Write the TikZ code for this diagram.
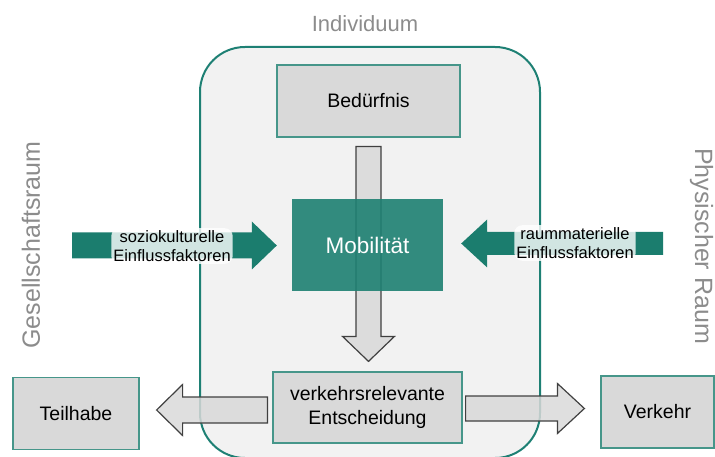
\documentclass[tikz,border=0pt]{standalone}
\usepackage{fontspec}
\setmainfont{Liberation Sans}
\usetikzlibrary{calc,positioning}

\definecolor{rahmenteal}{RGB}{30,128,116}
\definecolor{kastenrand}{RGB}{70,150,138}
\definecolor{pfeilteal}{RGB}{27,125,110}
\definecolor{mobteal}{RGB}{30,128,114}
\definecolor{kastengrau}{RGB}{217,217,217}
\definecolor{hellgrau}{RGB}{242,242,242}
\definecolor{schriftgrau}{RGB}{140,140,140}
\definecolor{pfeilrand}{RGB}{64,64,64}

% block arrow: style, from, to, half shaft, half head, head length
\newcommand{\blockpfeil}[6]{%
  \path[#1] let \p1=(#2), \p2=(#3),
    \n1={atan2(\y2-\y1,\x2-\x1)}, \n2={veclen(\x2-\x1,\y2-\y1)} in
    [shift={(\p1)}, rotate=\n1]
    (0pt,#4pt) -- (\n2-#6pt,#4pt) -- (\n2-#6pt,#5pt) -- (\n2,0pt)
    -- (\n2-#6pt,-#5pt) -- (\n2-#6pt,-#4pt) -- (0pt,-#4pt) -- cycle;}

\begin{document}
\begin{tikzpicture}[x=1pt,y=-1pt,
  kasten/.style={draw=kastenrand,line width=1.2pt,fill=kastengrau,inner sep=0pt,
    align=center,font=\fontsize{19.5}{24}\selectfont},
  raumlabel/.style={text=schriftgrau,inner sep=0pt,font=\fontsize{25}{30}\selectfont},
  grauerpfeil/.style={draw=pfeilrand,line width=1.2pt,fill=kastengrau,fill opacity=0.85},
  tealpfeil/.style={fill=pfeilteal},
  leuchttext/.style={fill=white,fill opacity=0.8,text opacity=1,rounded corners=8pt,
    inner sep=2pt,align=center,font=\fontsize{16.5}{19.5}\selectfont}]

\useasboundingbox (0,0) rectangle (715,457);

% Individuum
\node[draw=rahmenteal,line width=2pt,fill=hellgrau,rounded corners=45pt,
  minimum width=340pt,minimum height=411pt](ind) at (370,252.5) {};
\node[text=schriftgrau,font=\fontsize{22}{26}\selectfont](indlabel) at (365,24) {Individuum};

\node[kasten,minimum width=183pt,minimum height=72pt](bed) at (368.5,101) {Bedürfnis};
\node[kasten,minimum width=189pt,minimum height=71pt](ent) at (367.5,407.5) {verkehrsrelevante\\Entscheidung};

\blockpfeil{grauerpfeil}{$(bed.south)+(0,9)$}{$(ent.north)+(1,-10)$}{12.5}{26}{25}

\node[fill=mobteal,fill opacity=0.9,text=white,text opacity=1,inner sep=0pt,
  minimum width=151pt,minimum height=92pt,font=\fontsize{22.5}{26}\selectfont](mob) at (367.5,245) {Mobilität};

% Einflussfaktoren
\coordinate (sozstart) at (72,245.5);
\coordinate (raumstart) at (663,243.5);
\blockpfeil{tealpfeil}{sozstart}{$(mob.west)+(-15,0.5)$}{13}{24}{25}
\blockpfeil{tealpfeil}{raumstart}{$(mob.east)+(18,-1.5)$}{11.5}{24}{26}
\node[leuchttext](soz) at (172,246) {soziokulturelle\\Einflussfaktoren};
\node[leuchttext](raum) at (575,243) {raummaterielle\\Einflussfaktoren};

% Folgen
\node[kasten,minimum width=126pt,minimum height=72pt](teil) at (76,413.5) {Teilhabe};
\node[kasten,minimum width=113pt,minimum height=72pt](verk) at (657.5,412) {Verkehr};
\blockpfeil{grauerpfeil}{$(ent.west)+(-5,2.5)$}{$(teil.east)+(17,-3.5)$}{13}{25.5}{26}
\blockpfeil{grauerpfeil}{$(ent.east)+(3,1)$}{$(verk.west)+(-16,-3.5)$}{12.5}{25}{27}

% Raeume
\node[raumlabel,rotate=90](gesell) at (31,245) {Gesellschaftsraum};
\node[raumlabel,rotate=-90](physisch) at (701.5,246) {Physischer Raum};

\end{tikzpicture}
\end{document}
